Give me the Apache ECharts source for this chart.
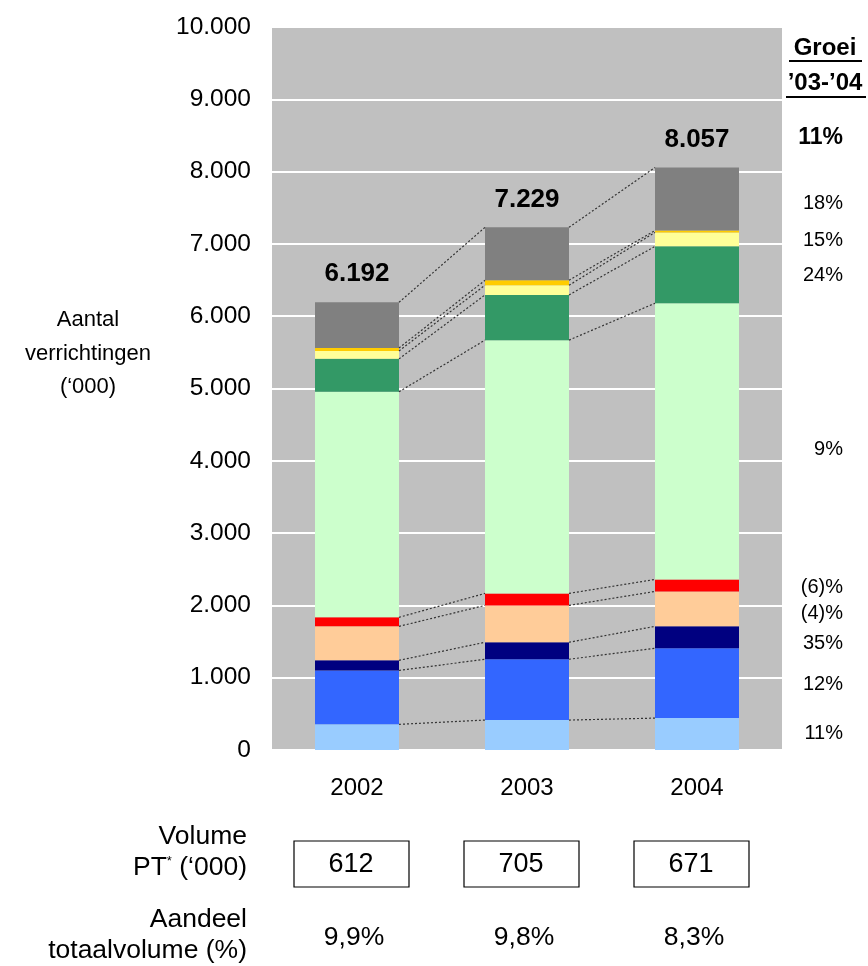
<!DOCTYPE html>
<html><head><meta charset="utf-8">
<script src="https://cdn.jsdelivr.net/npm/echarts@6/dist/echarts.min.js"></script>
<style>html,body{margin:0;padding:0;background:#fff}#c{width:868px;height:966px}</style>
</head><body><div id="c"></div>
<script>
// ---------- data ----------
const years = ['2002', '2003', '2004'];
const segLichtblauw  = [355, 414, 441];
const segBlauw       = [745, 841, 966];
const segDonkerblauw = [140, 235, 303];
const segZalm        = [470, 510, 483];
const segRood        = [125, 166, 166];
const segLichtgroen  = [3120, 3503, 3820];
const segGroen       = [455, 625, 787];
const segLichtgeel   = [110, 134, 193];
const segGeel        = [40, 69, 27];
const segGrijs       = [632, 732, 871];
const groeiLabels = ['11%', '18%', '15%', '24%', '9%', '(6)%', '(4)%', '35%', '12%', '11%'];
const volumePT = ['612', '705', '671'];
const aandeel = ['9,9%', '9,8%', '8,3%'];

// ---------- layout / style ----------
const FONT = 'Liberation Sans, Arial, Helvetica, sans-serif';
const BAR_W = 84;
const segs = [segLichtblauw, segBlauw, segDonkerblauw, segZalm, segRood, segLichtgroen, segGroen, segLichtgeel, segGeel, segGrijs];
const colors = ['#99CCFF', '#3366FF', '#000080', '#FFCC99', '#FF0000', '#CCFFCC', '#339966', '#FFFF99', '#FFCC00', '#808080'];
const groeiY = [138, 203, 240, 275, 449, 587, 613, 643, 684, 733];

function fmtNL(v) { return String(v).replace(/\B(?=(\d{3})+(?!\d))/g, '.'); }
function cumAt(i, b) { let s = 0; for (let k = 0; k <= b; k++) s += segs[k][i]; return s; }
const totals = years.map((_, i) => cumAt(i, segs.length - 1));

const chart = echarts.init(document.getElementById('c'), null, { renderer: 'canvas' });

const series = segs.map((arr, k) => ({
  type: 'bar', stack: 'tot', data: arr, barWidth: BAR_W,
  itemStyle: { color: colors[k] },
  silent: true, animation: false,
  label: k === segs.length - 1 ? {
    show: true, position: 'top', distance: 15,
    formatter: p => fmtNL(totals[p.dataIndex]),
    fontFamily: FONT, fontSize: 26, fontWeight: 'bold', color: '#000'
  } : { show: false }
}));

const connData = [];
for (let i = 0; i < years.length - 1; i++) for (let b = 0; b < segs.length; b++) connData.push([i, b]);
series.push({
  type: 'custom', data: connData, animation: false, silent: true, z: 3,
  encode: { x: 0, y: 1 },
  renderItem: (params, api) => {
    const i = api.value(0), b = api.value(1);
    const p1 = api.coord([i, cumAt(i, b)]);
    const p2 = api.coord([i + 1, cumAt(i + 1, b)]);
    return { type: 'line', shape: { x1: p1[0] + BAR_W / 2, y1: p1[1], x2: p2[0] - BAR_W / 2, y2: p2[1] },
      style: { stroke: '#333', lineWidth: 1.2, lineDash: [2, 2] } };
  }
});

chart.setOption({
  animation: false,
  grid: { left: 272, right: 86, top: 27, bottom: 216, show: true, backgroundColor: '#C0C0C0', borderWidth: 0 },
  xAxis: {
    type: 'category', data: years,
    axisLine: { show: false }, axisTick: { show: false },
    axisLabel: { margin: 26, fontFamily: FONT, fontSize: 24, color: '#000' }
  },
  yAxis: {
    type: 'value', min: 0, max: 10000, interval: 1000,
    axisLine: { show: false }, axisTick: { show: false },
    splitLine: { show: true, lineStyle: { color: '#fff', width: 2 } },
    axisLabel: { margin: 21, fontFamily: FONT, fontSize: 24.5, color: '#000', formatter: v => fmtNL(v) }
  },
  series: series
});

// ---------- annotations ----------
const g = [];
const txt = (x, y, text, o) => Object.assign({ type: 'text', x: x, y: y, style: Object.assign({
  text: text, fontFamily: FONT, fontSize: 24, fill: '#000', align: 'center', verticalAlign: 'middle' }, o || {}) });
// left axis title
g.push(txt(88, 320, 'Aantal', { fontSize: 22 }));
g.push(txt(88, 354, 'verrichtingen', { fontSize: 22 }));
g.push(txt(88, 387, '(\u2018000)', { fontSize: 22 }));
// Groei header
g.push(txt(825, 48, 'Groei', { fontWeight: 'bold', fontSize: 24 }));
g.push(txt(825, 83, '\u201903-\u201904', { fontWeight: 'bold', fontSize: 24 }));
g.push({ type: 'line', shape: { x1: 789, y1: 61, x2: 862, y2: 61 }, style: { stroke: '#000', lineWidth: 2 } });
g.push({ type: 'line', shape: { x1: 786, y1: 97, x2: 866, y2: 97 }, style: { stroke: '#000', lineWidth: 2 } });
// growth labels
groeiLabels.forEach((t, k) => {
  g.push(txt(843, groeiY[k], t, { align: 'right', fontSize: k === 0 ? 23 : 20, fontWeight: k === 0 ? 'bold' : 'normal' }));
});
// bottom row labels
g.push(txt(247, 837, 'Volume', { align: 'right', fontSize: 26.5 }));
g.push({ type: 'text', x: 247, y: 868, style: {
  text: 'PT{s|*} (\u2018000)', fontFamily: FONT, fontSize: 26.5, fill: '#000', align: 'right', verticalAlign: 'middle',
  rich: { s: { fontSize: 13, verticalAlign: 'top', padding: [0, 0, 12, 0], fontFamily: FONT } } } });
g.push(txt(247, 920, 'Aandeel', { align: 'right', fontSize: 26.5 }));
g.push(txt(247, 951, 'totaalvolume (%)', { align: 'right', fontSize: 26.5 }));
years.forEach((y, i) => {
  const cx = chart.convertToPixel({ xAxisIndex: 0 }, y);
  g.push({ type: 'rect', shape: { x: cx - 63, y: 841, width: 115, height: 46 }, style: { fill: '#fff', stroke: '#000', lineWidth: 1.2 } });
  g.push(txt(cx - 6, 865, volumePT[i], { fontSize: 27 }));
  g.push(txt(cx - 3, 938, aandeel[i], { fontSize: 26.5 }));
});
chart.setOption({ graphic: { elements: g } });
</script></body></html>
